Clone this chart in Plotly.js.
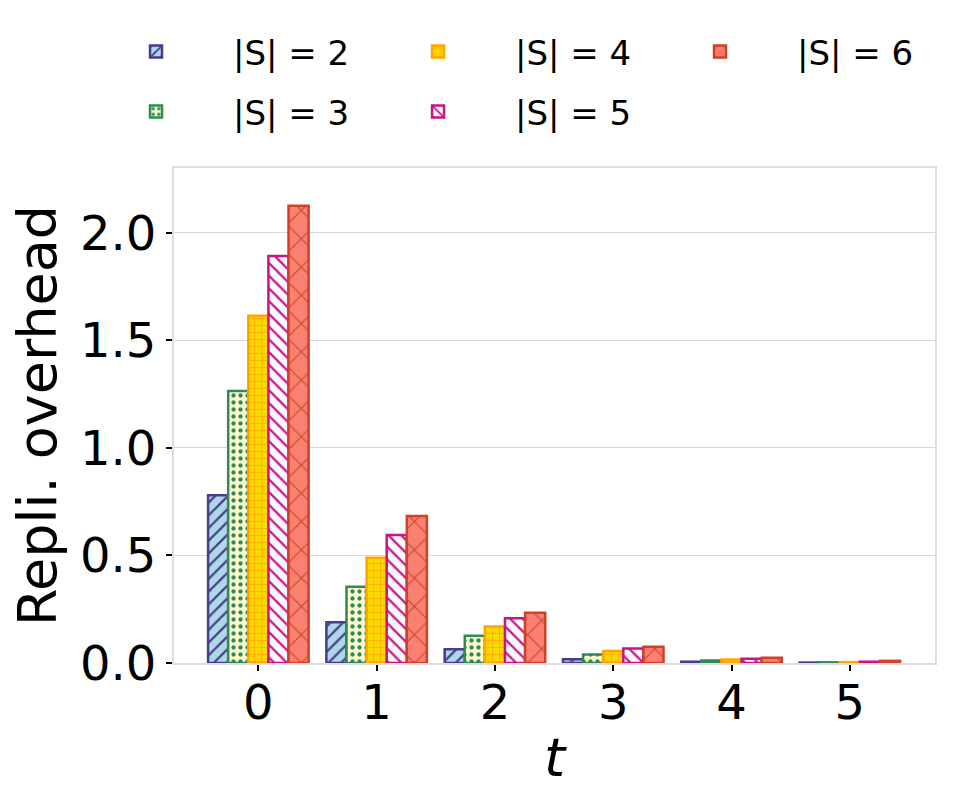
<!DOCTYPE html>
<html>
<head>
<meta charset="utf-8">
<script src="https://cdn.plot.ly/plotly-3.0.1.min.js"></script>
<style>
  html, body { margin: 0; padding: 0; background: #fff; }
  #grafico { width: 969px; height: 806px; }
</style>
</head>
<body>
<div id="grafico"></div>
<script>
// Valores de t (eje x)
const tValues = [0, 1, 2, 3, 4, 5];

// Overhead de replicación para cada |S|
const overheadS2 = [0.78, 0.19, 0.064, 0.017, 0.006, 0.002];
const overheadS3 = [1.265, 0.355, 0.127, 0.040, 0.012, 0.003];
const overheadS4 = [1.615, 0.49, 0.170, 0.056, 0.016, 0.004];
const overheadS5 = [1.893, 0.595, 0.208, 0.068, 0.020, 0.006];
const overheadS6 = [2.126, 0.684, 0.234, 0.076, 0.024, 0.010];

const seriesNames = ['|S| = 2', '|S| = 3', '|S| = 4', '|S| = 5', '|S| = 6'];
const seriesValues = [overheadS2, overheadS3, overheadS4, overheadS5, overheadS6];

// Estilo de cada serie: relleno, borde y patrón
const fills = ['#add8e6', '#fffacd', '#ffd700', '#f8f8ff', '#fa8072'];
const edges = ['#483d8b', '#2e8b57', '#ffa500', '#c71585', '#cf4128'];
const patterns = ['/', '.', '+', '\\', 'x'];
const patternSizes = [9, 7, 7, 9, 20];
const patternSolidity = [0.25, 0.3, 0.2, 0.25, 0.1];
// fila de la leyenda (como las columnas de matplotlib, ncol=3)
const legendRows = ['legend', 'legend2', 'legend', 'legend2', 'legend'];

const traces = seriesNames.map((name, i) => ({
    type: 'bar',
    x: tValues,
    y: seriesValues[i],
    name: name,
    legend: legendRows[i],
    marker: {
        color: fills[i],
        line: { color: edges[i], width: 2.5 },
        pattern: {
            shape: patterns[i],
            fgcolor: edges[i],
            bgcolor: fills[i],
            fillmode: 'replace',
            size: patternSizes[i],
            solidity: patternSolidity[i]
        }
    }
}));

const fuente = 'DejaVu Sans, sans-serif';

// Configuración común de las dos filas de la leyenda
const leyendaBase = {
    orientation: 'h',
    x: -0.1248,
    xanchor: 'left',
    yanchor: 'top',
    font: { size: 34, family: fuente },
    entrywidth: 123,
    entrywidthmode: 'pixels',
    itemwidth: 144,
    bgcolor: 'rgba(0,0,0,0)'
};

const layout = {
    width: 969,
    height: 806,
    margin: { l: 174, r: 34, t: 168, b: 143, autoexpand: false },
    paper_bgcolor: '#ffffff',
    plot_bgcolor: '#ffffff',
    font: { family: fuente, color: '#000000' },
    barmode: 'group',
    bargap: 0.15,
    bargroupgap: 0,
    showlegend: true,
    legend: Object.assign({}, leyendaBase, { y: 1.293 }),
    legend2: Object.assign({}, leyendaBase, { y: 1.172 }),
    xaxis: {
        range: [-0.713, 5.72],
        tickmode: 'array',
        tickvals: tValues,
        ticktext: tValues.map(String),
        ticks: 'outside',
        ticklen: 6,
        tickwidth: 2,
        tickcolor: '#000000',
        tickfont: { size: 48, family: fuente },
        ticklabelstandoff: -10,
        showgrid: false,
        zeroline: false,
        showline: true,
        linecolor: '#dcdcdc',
        linewidth: 2,
        mirror: true,
        title: { text: '<i>t</i>', font: { size: 54, family: fuente }, standoff: 10 }
    },
    yaxis: {
        range: [0, 2.302],
        tickmode: 'array',
        tickvals: [0, 0.5, 1.0, 1.5, 2.0],
        ticktext: ['0.0', '0.5', '1.0', '1.5', '2.0'],
        ticks: 'outside',
        ticklen: 6,
        tickwidth: 2,
        tickcolor: '#000000',
        tickfont: { size: 48, family: fuente },
        showgrid: true,
        gridcolor: '#d9d9d9',
        gridwidth: 1,
        zeroline: false,
        showline: true,
        linecolor: '#dcdcdc',
        linewidth: 2,
        mirror: true,
        title: { text: 'Repli. overhead', font: { size: 54, family: fuente }, standoff: 6 }
    }
};

Plotly.newPlot('grafico', traces, layout, { displayModeBar: false, staticPlot: true });
</script>
</body>
</html>
